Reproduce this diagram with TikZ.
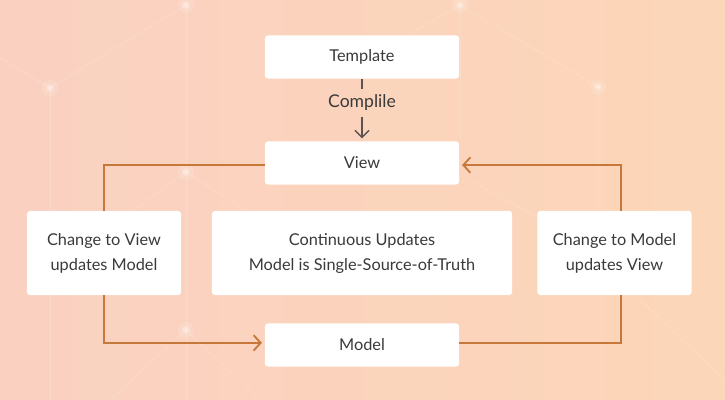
\documentclass[tikz,border=0pt]{standalone}
\usepackage{fontspec}
\setmainfont{Lato}
\usepackage{tikz}
\usetikzlibrary{positioning}
\usetikzlibrary{arrows.meta}
\definecolor{bgleft}{HTML}{FAD1C1}
\definecolor{bgright}{HTML}{FCD6B8}
\definecolor{loop}{HTML}{C6783A}
\definecolor{txt}{HTML}{3A3A3A}
\definecolor{flowgray}{HTML}{5A5350}

\begin{document}
\begin{tikzpicture}[x=0.025cm,y=0.025cm,
  box/.style={fill=white,rounded corners=2pt,text=txt,font=\fontsize{11.6}{17.8}\selectfont,align=center,inner sep=0pt},
  small/.style={box,minimum width=4.85cm,minimum height=1.075cm},
  side/.style={box,minimum width=3.85cm,minimum height=2.1cm},
  link/.style={draw=loop,line width=1.3pt},
  chev/.style={-{Straight Barb[length=5pt,width=11pt,line width=1.3pt]}},
  net/.style={white,opacity=0.16,line width=0.6pt}]
\useasboundingbox (0,0) rectangle (725,-400);
\shade[left color=bgleft,right color=bgright] (0,0) rectangle (725,-400);
% background network
\draw[net] (0,-58) -- (50,-88) -- (186,-5);
\draw[net] (50,-88) -- (50,-400);
\draw[net] (186,-5) -- (186,-400);
\draw[net] (100,-235) -- (186,-172) -- (290,-240);
\draw[net] (110,-400) -- (186,-330) -- (260,-400);
\draw[net] (400,-40) -- (460,-5) -- (598,-87);
\draw[net] (460,-5) -- (460,-140);
\draw[net] (598,-87) -- (598,-210);
\draw[net] (470,-180) -- (560,-230);
\draw[net] (640,-300) -- (725,-380);
\foreach \p in {(50,-88),(186,-5),(186,-172),(186,-330),(460,-5),(598,-87)} {
  \fill[white,opacity=0.12] \p circle (8);
  \fill[white,opacity=0.25] \p circle (4);
  \fill[white,opacity=0.5] \p circle (1.5);
}

\node[small] (tmpl) at (362,-57) {Template};
\node[small] (view) at (362,-163) {View};
\node[small] (model) at (362,-345) {Model};
\node[side] (cv) at (104,-253) {Change to View\\updates Model};
\node[box,minimum width=7.5cm,minimum height=2.1cm] (cont) at (362,-253) {Continuous Updates\\Model is Single-Source-of-Truth};
\node[side] (cm) at (614.5,-253) {Change to Model\\updates View};
\node[text=txt,font=\fontsize{12.5}{14}\selectfont,inner sep=0pt] (comp) at (362,-103) {Complile};

\draw[flowgray,line width=1pt,shorten >=4pt] (tmpl) -- (comp);
\draw[flowgray,line width=1pt,-{Straight Barb[length=5pt,width=10pt,line width=1pt]},shorten <=4pt,shorten >=2pt] (comp) -- (view);

\draw[link] ([yshift=-1.5]view.west) -| (cv.north);
\draw[link,chev,shorten >=2pt] (cv.south) |- ([yshift=1.5]model.west);
\draw[link] ([yshift=1.5]model.east) -| ([xshift=4.5]cm.south);
\draw[link,chev,shorten >=2pt] ([xshift=4.5]cm.north) |- ([yshift=-1.5]view.east);
\end{tikzpicture}
\end{document}
